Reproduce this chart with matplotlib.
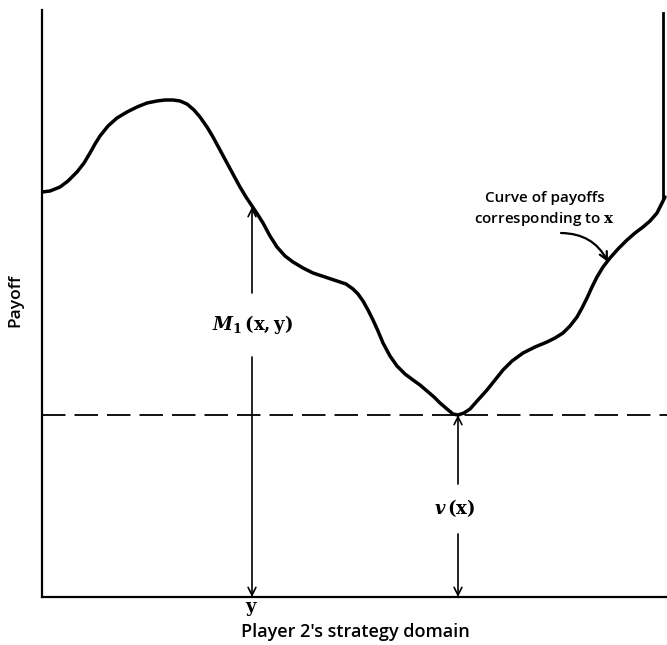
import numpy as np
import matplotlib
matplotlib.use("Agg")
from matplotlib import pyplot as plt

plt.rcParams['mathtext.fontset'] = 'dejavuserif'

# curve of payoffs for a fixed x (pixel-like units)
curve_x = [42, 50, 60, 68, 77, 84, 90, 95, 100, 108, 117, 127, 137, 147, 157, 165,
           173, 180, 187, 194, 200, 207, 213, 220, 227, 234, 240, 246, 252, 258,
           263, 270, 277, 285, 293, 303, 313, 325, 337, 346, 353, 358, 363, 368,
           373, 378, 383, 390, 397, 405, 413, 420, 427, 434, 440, 447, 453, 458,
           464, 470, 478, 487, 495, 503, 512, 523, 535, 547, 555, 563, 570, 577,
           582, 587, 592, 597, 603, 610, 618, 627, 635, 643, 650, 657, 661, 665]
curve_y = [192, 191, 187, 181, 172, 163, 153, 144, 136, 126, 118, 112, 107, 103, 101, 100,
           100, 101, 104, 110, 117, 127, 137, 150, 163, 176, 187, 197, 206, 215,
           223, 236, 247, 256, 262, 268, 273, 277, 281, 284, 289, 294, 301, 310,
           320, 331, 343, 356, 366, 374, 380, 385, 391, 397, 403, 409, 414, 415,
           413, 409, 400, 390, 380, 370, 361, 353, 347, 342, 338, 333, 326, 317,
           308, 298, 287, 277, 267, 258, 249, 240, 233, 227, 221, 213, 205, 197]

x_left, x_right = 42, 667
y_bottom, y_top = 597, 10
v_level = 415
y_pos = 252
x_min = 458
right_wall = [13, 197]

fig = plt.figure(figsize=(6.67, 6.45), dpi=100)
ax = fig.add_axes([x_left/667, (645-y_bottom)/645, (x_right-x_left)/667, (y_bottom-y_top)/645])
ax.set_xlim(x_left, x_right)
ax.set_ylim(y_bottom, y_top)
ax.set_xticks([])
ax.set_yticks([])
for s in ['top', 'right']:
    ax.spines[s].set_visible(False)
for s in ['left', 'bottom']:
    ax.spines[s].set_linewidth(1.6)

ax.plot(curve_x, curve_y, color='black', lw=2.5, solid_capstyle='round', solid_joinstyle='round')
ax.plot([663, 663], right_wall, color='black', lw=2.0)
ax.plot([x_left, x_right], [v_level, v_level], color='black', lw=1.3, dashes=(13, 5))

# M1(x,y) double arrow
arr = dict(arrowstyle='->', lw=1.2, color='black', mutation_scale=14, shrinkA=0, shrinkB=0)
ax.annotate('', xy=(y_pos, 207), xytext=(y_pos, 293), arrowprops=arr)
ax.annotate('', xy=(y_pos, y_bottom), xytext=(y_pos, 357), arrowprops=arr)
ax.text(y_pos, 325, r'$\mathbfit{M}_{\mathbf{1}}\,\mathbf{(x,y)}$', ha='center', va='center', fontsize=13)

# v(x) double arrow
ax.annotate('', xy=(x_min, v_level), xytext=(x_min, 484), arrowprops=arr)
ax.annotate('', xy=(x_min, y_bottom), xytext=(x_min, 534), arrowprops=arr)
ax.text(x_min - 3, 508, r'$\mathbfit{v}\,\mathbf{(x)}$', ha='center', va='center', fontsize=13)

# curve label
ax.text(545, 198, 'Curve of payoffs', ha='center', va='center', fontsize=11,
        family='Open Sans', weight='semibold')
ax.text(545, 219, r'corresponding to $\mathbf{x}$', ha='center', va='center', fontsize=11,
        family='Open Sans', weight='semibold')
ax.annotate('', xy=(608, 262), xytext=(561, 233),
            arrowprops=dict(arrowstyle='->', lw=1.6, color='black', mutation_scale=14,
                            connectionstyle='arc3,rad=-0.3', shrinkA=0, shrinkB=0))

fig.text(y_pos/667, 1 - 609/645, r'$\mathbf{y}$', ha='center', va='center', fontsize=13)
fig.text(355/667, 1 - 632/645, "Player 2's strategy domain", ha='center', va='center',
         fontsize=13, family='Open Sans', weight='semibold')
fig.text(15/667, 1 - 300/645, 'Payoff', ha='center', va='center', rotation=90,
         fontsize=12.5, family='Open Sans', weight='semibold')

fig.savefig('out.png', dpi=100)
